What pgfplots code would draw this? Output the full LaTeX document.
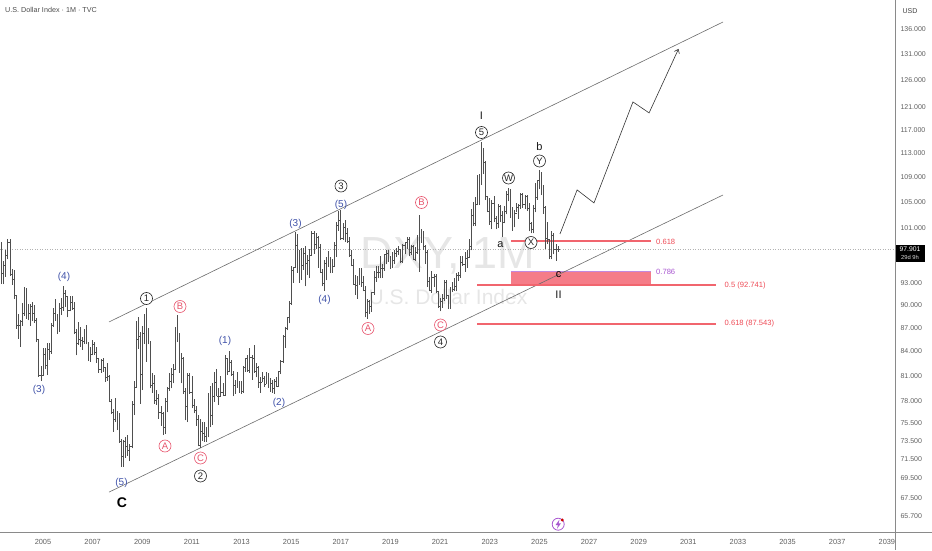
\documentclass[border=0pt]{standalone}
\usepackage{fontspec}
\setmainfont{Liberation Sans}
\usepackage{pgfplots}
\usepackage{pgfplotstable}
\pgfplotsset{compat=1.18}
\usetikzlibrary{arrows.meta}
\definecolor{barc}{HTML}{4F4F4F}
\definecolor{wblue}{HTML}{3F51A8}
\definecolor{wred}{HTML}{E8556E}
\definecolor{fibred}{HTML}{EE4A55}
\definecolor{zone}{HTML}{F57C88}
\definecolor{fibpur}{HTML}{A855D0}
\definecolor{tickc}{HTML}{5F5F5F}
\definecolor{framec}{HTML}{8A8A8A}
\definecolor{wm}{HTML}{E6E6E6}
\pgfdeclareplotmark{rtick}{\pgfpathmoveto{\pgfqpoint{0pt}{0pt}}\pgfpathlineto{\pgfqpoint{0.9pt}{0pt}}\pgfusepathqstroke}
\pgfdeclareplotmark{ltick}{\pgfpathmoveto{\pgfqpoint{0pt}{0pt}}\pgfpathlineto{\pgfqpoint{-0.9pt}{0pt}}\pgfusepathqstroke}
\pgfplotstableread{
y m h l c
2003 4 101.9 98.6 98.7
2003 5 98.9 92.9 94.4
2003 6 96.1 92.9 95.6
2003 7 97.8 93.9 97.0
2003 8 99.4 96.4 98.9
2003 9 99.3 94.0 94.3
2003 10 95.0 92.8 93.6
2003 11 94.9 90.9 91.3
2003 12 91.4 86.9 87.4
2004 1 88.9 85.6 87.3
2004 2 88.0 84.6 87.9
2004 3 90.3 87.3 88.9
2004 4 92.5 88.6 91.0
2004 5 92.3 88.2 88.9
2004 6 90.2 88.0 88.9
2004 7 90.2 87.3 89.9
2004 8 90.4 87.9 89.0
2004 9 90.0 87.7 88.0
2004 10 88.3 85.2 85.5
2004 11 85.6 80.9 81.1
2004 12 82.2 80.4 81.1
2005 1 84.5 81.0 83.6
2005 2 84.5 81.8 82.3
2005 3 85.1 81.1 84.3
2005 4 85.1 83.0 84.0
2005 5 87.6 83.7 87.4
2005 6 89.7 87.1 89.0
2005 7 90.8 87.9 88.2
2005 8 88.9 86.2 87.7
2005 9 90.3 86.5 89.6
2005 10 91.0 88.7 89.7
2005 11 92.6 89.3 91.6
2005 12 92.1 89.8 91.2
2006 1 91.3 88.4 89.4
2006 2 91.3 89.2 90.4
2006 3 91.3 89.4 89.6
2006 4 90.5 86.2 86.4
2006 5 86.9 83.5 85.0
2006 6 87.8 84.8 85.5
2006 7 87.1 84.6 85.4
2006 8 85.8 84.2 85.3
2006 9 86.9 85.0 85.9
2006 10 87.4 84.9 85.0
2006 11 85.2 82.8 83.2
2006 12 84.6 82.7 83.7
2007 1 85.4 83.5 84.9
2007 2 85.2 83.6 83.9
2007 3 84.6 82.6 83.2
2007 4 83.2 81.4 81.8
2007 5 83.1 81.4 82.9
2007 6 83.2 81.5 82.0
2007 7 82.1 80.3 80.8
2007 8 82.6 80.4 80.9
2007 9 81.1 77.9 78.0
2007 10 78.3 76.5 76.7
2007 11 77.1 74.5 75.9
2007 12 78.4 75.6 76.7
2008 1 76.9 74.7 75.2
2008 2 76.6 73.3 73.5
2008 3 73.7 70.7 71.8
2008 4 73.6 70.7 73.5
2008 5 73.9 71.7 72.9
2008 6 74.1 71.9 72.5
2008 7 73.2 71.3 72.9
2008 8 78.0 72.7 77.7
2008 9 80.4 76.4 79.7
2008 10 87.9 79.6 85.6
2008 11 88.4 84.3 86.0
2008 12 86.5 77.7 81.2
2009 1 87.2 79.3 86.3
2009 2 88.8 85.0 88.5
2009 3 89.6 82.7 85.7
2009 4 87.0 84.9 85.2
2009 5 85.3 79.5 79.9
2009 6 81.4 79.0 80.1
2009 7 81.1 77.7 78.1
2009 8 79.3 77.6 78.3
2009 9 78.8 76.0 76.7
2009 10 77.4 75.2 76.6
2009 11 76.8 74.2 75.0
2009 12 78.4 74.3 78.0
2010 1 79.7 76.7 79.5
2010 2 81.3 79.2 80.4
2010 3 82.0 79.5 81.2
2010 4 82.4 80.1 81.8
2010 5 87.1 81.7 86.4
2010 6 88.7 85.2 86.3
2010 7 86.4 81.4 81.6
2010 8 83.8 80.1 83.1
2010 9 83.3 78.9 79.2
2010 10 79.5 75.8 77.4
2010 11 81.4 75.6 81.1
2010 12 81.4 78.9 79.0
2011 1 81.0 77.2 77.5
2011 2 78.2 76.6 76.9
2011 3 77.5 75.2 75.9
2011 4 76.4 72.9 73.0
2011 5 75.9 72.7 74.6
2011 6 75.6 73.5 74.3
2011 7 75.6 73.4 74.0
2011 8 75.1 73.4 74.4
2011 9 79.0 73.9 78.6
2011 10 79.8 75.0 76.4
2011 11 80.1 75.3 78.6
2011 12 81.5 77.9 80.2
2012 1 81.8 78.6 78.6
2012 2 79.5 77.6 78.6
2012 3 81.0 78.6 79.0
2012 4 80.1 78.6 78.7
2012 5 83.6 78.6 83.2
2012 6 83.2 81.1 81.6
2012 7 84.1 81.5 82.7
2012 8 83.0 81.0 81.2
2012 9 81.6 78.6 79.9
2012 10 80.5 78.9 79.9
2012 11 81.5 79.6 80.2
2012 12 80.4 79.0 79.8
2013 1 80.4 78.9 79.2
2013 2 82.2 79.0 82.1
2013 3 83.2 81.5 83.1
2013 4 83.6 81.5 81.7
2013 5 84.5 81.4 83.3
2013 6 83.5 80.5 83.1
2013 7 84.8 81.4 81.5
2013 8 82.6 80.8 82.1
2013 9 82.2 79.6 80.2
2013 10 80.9 79.0 80.2
2013 11 81.5 80.2 80.7
2013 12 81.0 79.7 80.0
2014 1 81.5 80.0 81.2
2014 2 81.3 79.6 79.7
2014 3 80.7 79.1 80.1
2014 4 80.5 79.0 79.5
2014 5 80.6 78.9 80.4
2014 6 80.8 79.7 79.8
2014 7 81.6 79.7 81.5
2014 8 82.9 81.2 82.8
2014 9 86.1 82.6 86.0
2014 10 87.1 84.5 87.0
2014 11 88.4 86.7 88.4
2014 12 90.6 87.6 90.3
2015 1 95.5 90.1 94.8
2015 2 95.3 93.1 95.3
2015 3 100.4 95.2 98.4
2015 4 100.1 94.5 94.6
2015 5 97.8 93.1 96.9
2015 6 98.0 93.5 95.5
2015 7 98.1 94.9 97.3
2015 8 98.3 92.6 95.8
2015 9 97.0 94.2 96.3
2015 10 97.9 93.8 97.0
2015 11 100.5 96.9 100.2
2015 12 100.5 97.2 98.6
2016 1 100.2 97.9 99.6
2016 2 99.8 95.2 98.2
2016 3 98.6 94.6 94.6
2016 4 95.0 92.6 93.0
2016 5 96.3 92.0 95.9
2016 6 96.7 93.4 96.1
2016 7 97.6 95.3 95.5
2016 8 96.7 94.4 95.9
2016 9 96.4 94.5 95.4
2016 10 99.0 95.4 98.4
2016 11 102.0 96.7 101.5
2016 12 103.6 100.6 102.2
2017 1 103.8 99.2 99.5
2017 2 101.8 99.2 101.1
2017 3 102.3 98.9 100.3
2017 4 101.0 98.8 99.0
2017 5 99.7 96.8 97.0
2017 6 97.8 95.4 95.6
2017 7 96.4 92.8 92.9
2017 8 94.1 91.4 92.7
2017 9 94.0 90.9 93.1
2017 10 95.2 92.8 94.5
2017 11 95.1 92.5 93.1
2017 12 94.0 91.9 92.1
2018 1 92.6 88.4 89.1
2018 2 90.9 88.2 90.6
2018 3 90.7 88.9 89.9
2018 4 91.8 89.1 91.8
2018 5 94.8 91.4 93.9
2018 6 95.5 93.2 94.5
2018 7 95.4 93.7 94.5
2018 8 96.9 93.7 95.1
2018 9 95.7 93.8 95.1
2018 10 97.2 94.8 97.1
2018 11 97.7 95.7 97.3
2018 12 97.7 96.0 96.2
2019 1 96.9 95.0 95.6
2019 2 97.4 95.2 96.2
2019 3 97.7 95.7 97.3
2019 4 98.0 96.7 97.5
2019 5 98.4 97.0 97.8
2019 6 97.8 95.8 96.1
2019 7 98.7 95.8 98.5
2019 8 99.0 97.1 98.9
2019 9 99.7 97.9 99.4
2019 10 99.7 96.9 97.4
2019 11 98.5 97.0 98.3
2019 12 98.5 96.4 96.4
2020 1 98.2 96.2 97.4
2020 2 99.9 97.2 98.1
2020 3 102.99 94.6 99.0
2020 4 100.9 98.8 99.0
2020 5 100.6 97.8 98.3
2020 6 98.5 95.7 97.4
2020 7 97.8 92.5 93.3
2020 8 93.9 91.9 92.1
2020 9 94.7 91.7 93.9
2020 10 94.3 92.5 94.0
2020 11 94.3 91.7 91.9
2020 12 92.0 89.7 89.9
2021 1 91.0 89.2 90.6
2021 2 91.6 89.7 90.9
2021 3 93.4 90.6 93.2
2021 4 93.4 90.9 91.3
2021 5 91.4 89.5 90.0
2021 6 92.4 89.5 92.4
2021 7 93.2 91.8 92.2
2021 8 93.7 92.0 92.6
2021 9 94.4 91.9 94.2
2021 10 94.6 93.3 94.1
2021 11 96.9 93.8 96.0
2021 12 96.9 95.5 95.7
2022 1 97.4 94.6 96.5
2022 2 97.8 95.2 96.7
2022 3 99.4 96.6 98.3
2022 4 103.9 97.7 102.9
2022 5 105.0 101.3 101.7
2022 6 105.8 101.3 104.7
2022 7 109.3 104.5 105.9
2022 8 109.5 104.6 108.7
2022 9 114.8 107.7 112.1
2022 10 113.9 109.5 111.5
2022 11 111.7 105.3 106.0
2022 12 106.0 103.4 103.5
2023 1 105.6 101.5 102.1
2023 2 105.3 100.8 104.9
2023 3 105.9 101.9 102.5
2023 4 102.8 100.8 101.7
2023 5 104.7 101.0 104.3
2023 6 104.5 101.9 102.9
2023 7 103.6 99.6 101.9
2023 8 104.4 101.7 103.6
2023 9 106.8 103.1 106.2
2023 10 107.3 105.1 106.7
2023 11 107.1 102.5 103.5
2023 12 104.3 100.6 101.3
2024 1 103.8 101.1 103.3
2024 2 104.9 103.4 104.2
2024 3 104.7 102.4 104.5
2024 4 106.5 104.0 106.2
2024 5 106.5 104.1 104.7
2024 6 106.1 103.9 105.9
2024 7 106.1 103.6 104.1
2024 8 104.8 100.5 101.7
2024 9 101.9 100.2 100.8
2024 10 104.6 100.2 104.0
2024 11 108.1 103.4 105.7
2024 12 108.5 105.4 108.5
2025 1 110.2 107.0 108.4
2025 2 109.9 106.1 107.6
2025 3 107.7 103.2 104.2
2025 4 104.4 97.9 99.5
2025 5 101.9 98.7 99.3
2025 6 99.4 96.4 96.9
2025 7 100.5 96.4 100.0
2025 8 100.3 97.1 97.8
2025 9 98.7 96.2 97.8
2025 10 98.3 97.5 97.9
}\dxy
\newcommand{\circl}[3]{\node[circle,draw=#1,fill=white,text=#1,line width=0.6pt,inner sep=0pt,minimum size=12pt,font=\fontsize{9.5}{10}\selectfont] at (#2) {#3};}
\newcommand{\wave}[2]{\node[text=wblue,font=\fontsize{10}{11}\selectfont,inner sep=0pt] at (#1) {#2};}
\begin{document}
\begin{tikzpicture}
\useasboundingbox (0,0) rectangle (932pt,550pt);
% watermark
\begin{scope}[x=1pt,y=-1pt,shift={(0pt,550pt)}]
\node[text=wm,font=\fontsize{45}{45}\selectfont,inner sep=0pt] at (448,256) {DXY, 1M};
\node[text=wm,font=\fontsize{21}{21}\selectfont,inner sep=0pt] at (448,297) {U.S. Dollar Index};
\end{scope}
\begin{axis}[
  at={(0pt,18pt)},anchor=south west,
  scale only axis,width=895.5pt,height=532pt,
  xmin=2003.268,xmax=2039.348,
  ymode=log,ymin=64.15,ymax=142.02,
  axis line style={draw=none},
  major tick length=0pt,minor tick length=0pt,
  ytick={65.7,67.5,69.5,71.5,73.5,75.5,78,81,84,87,90,93,101,105,109,113,117,121,126,131,136},
  yticklabels={65.700,67.500,69.500,71.500,73.500,75.500,78.000,81.000,84.000,87.000,90.000,93.000,101.000,105.000,109.000,113.000,117.000,121.000,126.000,131.000,136.000},
  yticklabel pos=right,
  y tick label style={font=\fontsize{7}{8}\selectfont,text=tickc,anchor=west,xshift=1.5pt},
  xtick={2005,2007,2009,2011,2013,2015,2017,2019,2021,2023,2025,2027,2029,2031,2033,2035,2037,2039},
  xticklabels={2005,2007,2009,2011,2013,2015,2017,2019,2021,2023,2025,2027,2029,2031,2033,2035,2037,2039},
  x tick label style={font=\fontsize{7.4}{8}\selectfont,text=tickc,anchor=base,yshift=-13pt},
  clip=true,
]
% last price dotted
\addplot[draw=gray!60,line width=0.5pt,dotted] coordinates {(2003.268,97.901)(2039.348,97.901)};
% zone
\addplot[fill=zone,draw=none] coordinates {(2023.86,92.741)(2029.50,92.741)(2029.50,94.74)(2023.86,94.74)} -- cycle;
\addplot[draw=fibpur!70,line width=0.4pt] coordinates {(2023.86,94.74)(2029.50,94.74)};
% channel
\addplot[draw=gray!85!black,line width=0.6pt] coordinates {(2007.66,87.79)(2032.40,137.43)};
\addplot[draw=gray!85!black,line width=0.6pt] coordinates {(2007.66,68.09)(2032.40,106.13)};
% fib lines
\addplot[draw=fibred!85!white,line width=1.5pt] coordinates {(2023.86,99.05)(2029.50,99.05)};
\addplot[draw=fibred!85!white,line width=1.5pt] coordinates {(2022.49,92.741)(2032.12,92.741)};
\addplot[draw=fibred!85!white,line width=1.5pt] coordinates {(2022.49,87.543)(2032.12,87.543)};
% OHLC bars
\addplot[draw=none,mark=none,
  error bars/.cd,y dir=plus,y explicit,error mark=none,
  error bar style={draw=barc,line width=0.75pt}]
  table[x expr=\thisrow{y}+(\thisrow{m}-1)/12,y=l,y error plus expr=\thisrow{h}-\thisrow{l}] {\dxy};
\addplot[only marks,mark=rtick,mark options={draw=barc,line width=0.5pt}]
  table[x expr=\thisrow{y}+(\thisrow{m}-1)/12,y=c] {\dxy};
\addplot[only marks,mark=ltick,mark options={draw=barc,line width=0.5pt}]
  table[x expr=\thisrow{y}+\thisrow{m}/12,y=c] {\dxy};
% projected path
\addplot[draw=black!80,line width=0.6pt,-{Straight Barb[length=3.5pt,width=5.5pt]}] coordinates {
 (2025.83,100.12)(2026.52,106.93)(2027.20,104.87)(2028.77,121.95)(2029.42,119.97)(2030.605,132.0)};
\end{axis}
\begin{scope}[x=1pt,y=-1pt,shift={(0pt,550pt)}]
% frame
\draw[framec,line width=0.7pt] (0,532)--(932,532);
\draw[framec,line width=0.7pt] (895.5,0)--(895.5,550);
% header
\node[anchor=west,text=black!70,font=\fontsize{7.2}{8}\selectfont,inner sep=0pt] at (5,10) {U.S. Dollar Index · 1M · TVC};
\node[text=black!75,font=\fontsize{7}{8}\selectfont,inner sep=0pt] at (910,11) {USD};
% price tag
\fill[black] (895.8,245) rectangle (925,262);
\node[text=white,font=\fontsize{6.8}{7}\selectfont,inner sep=0pt] at (910,249.5) {97.901};
\node[text=white!85!black,font=\fontsize{5.8}{7}\selectfont,inner sep=0pt] at (910,257.5) {29d 9h};
% fib labels
\node[anchor=west,text=fibred,font=\fontsize{7.6}{8}\selectfont,inner sep=0pt] at (656,241.5) {0.618};
\node[anchor=west,text=fibpur,font=\fontsize{7.6}{8}\selectfont,inner sep=0pt] at (656,271.5) {0.786};
\node[anchor=west,text=fibred,font=\fontsize{7.6}{8}\selectfont,inner sep=0pt] at (724.5,285.5) {0.5 (92.741)};
\node[anchor=west,text=fibred,font=\fontsize{7.6}{8}\selectfont,inner sep=0pt] at (724.5,324) {0.618 (87.543)};
% blue waves
\wave{64,276.5}{(4)}
\wave{39,390}{(3)}
\wave{225,340.5}{(1)}
\wave{279,403}{(2)}
\wave{121.5,483}{(5)}
\wave{295.5,224}{(3)}
\wave{341,204.5}{(5)}
\wave{324.5,299.5}{(4)}
% circled
\circl{black!85}{146.5,298.5}{1}
\circl{wred}{180,306.5}{B}
\circl{wred}{165,446}{A}
\circl{wred}{200.5,458}{C}
\circl{black!85}{200.5,476}{2}
\circl{black!85}{341,186}{3}
\circl{wred}{368,328.5}{A}
\circl{wred}{421.5,202.5}{B}
\circl{wred}{440.5,325}{C}
\circl{black!85}{440.5,342}{4}
\circl{black!85}{481.5,132.5}{5}
\circl{black!85}{508.5,178}{W}
\circl{black!85}{531,242.5}{X}
\circl{black!85}{539.5,161}{Y}
% black letters
\node[font=\bfseries\fontsize{14}{15}\selectfont,inner sep=0pt] at (122,503) {C};
\node[text=black!90,font=\fontsize{11}{12}\selectfont,inner sep=0pt] at (481.5,116) {I};
\node[text=black!90,font=\fontsize{11}{12}\selectfont,inner sep=0pt] at (500.5,245) {a};
\node[text=black!90,font=\fontsize{11}{12}\selectfont,inner sep=0pt] at (539.5,147) {b};
\node[text=black,font=\fontsize{11}{12}\selectfont,inner sep=0pt] at (558.5,274.5) {c};
\node[text=black!90,font=\fontsize{11}{12}\selectfont,inner sep=0pt] at (558.5,295) {II};
% icon
\draw[fibpur,line width=0.8pt] (558.2,524.2) circle (6pt);
\fill[fibpur] (559.5,519.5)--(555.6,525)--(558,525)--(557,528.8)--(561,523.3)--(558.6,523.3)--cycle;
\fill[red!80!black] (562.3,520) circle (1.6pt);
\end{scope}
\end{tikzpicture}
\end{document}
